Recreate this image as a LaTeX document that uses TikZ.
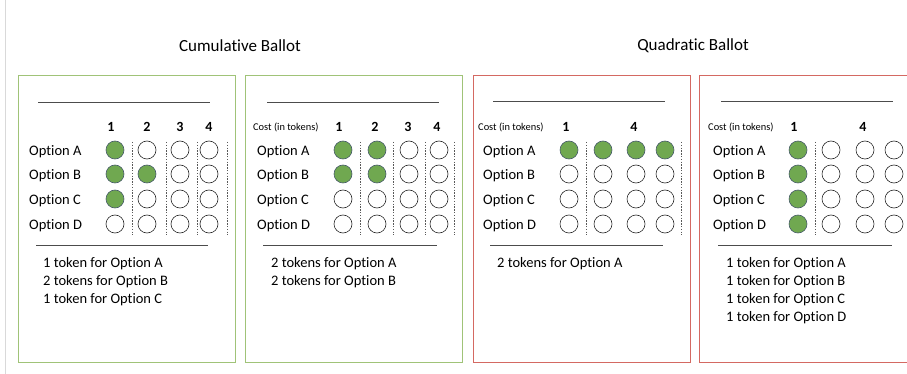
\documentclass[tikz,border=0pt]{standalone}
\usepackage{fontspec}
\setmainfont{Carlito}[Ligatures=NoCommon]

\definecolor{boxgreen}{RGB}{160,195,120}
\definecolor{boxred}{RGB}{212,105,98}
\definecolor{votegreen}{RGB}{112,168,80}
\definecolor{voteedge}{RGB}{70,90,105}

\begin{document}
\begin{tikzpicture}[x=1pt,y=-1pt,
    title/.style={font=\fontsize{17}{20}\selectfont},
    option/.style={anchor=west,inner sep=0pt,font=\fontsize{14.5}{17}\selectfont},
    colnum/.style={inner sep=0pt,font=\bfseries\fontsize{14}{17}\selectfont},
    cost/.style={anchor=west,inner sep=0pt,font=\fontsize{10.4}{12}\selectfont},
    tally/.style={anchor=west,inner sep=0pt,font=\fontsize{14.5}{17}\selectfont},
    bubble/.style={circle,draw=black!85,line width=0.6pt,minimum size=18pt,inner sep=0pt},
    voted/.style={bubble,fill=votegreen,draw=voteedge},
    sep/.style={draw=black!65,dash pattern=on 1.4pt off 1.4pt,line width=0.6pt},
    rule/.style={draw=black!70,line width=0.8pt}]
  \useasboundingbox (0,0) rectangle (907,374);
  \draw[gray!30,line width=0.8pt] (5,0) -- (5,374);

  % titles
  \node[title] (cumtitle) at (240,46) {Cumulative Ballot};
  \node[title] (quadtitle) at (693,46) {Quadratic Ballot};

  % ballot frames
  \draw[boxgreen,line width=0.9pt] (18,75) rectangle (235,362);
  \draw[boxgreen,line width=0.9pt] (245,75) rectangle (462,362);
  \draw[boxred,line width=0.9pt] (473,75) rectangle (690,362);
  \draw[boxred,line width=0.9pt] (699,75) rectangle (912,362);

  % cumulative, first ballot
  \draw[rule] (38,102) -- (210,102);
  \draw[rule] (36,245) -- (208,245);
  \foreach \c/\x in {1/111,2/147,3/180,4/209}
    \node[colnum] (a-h\c) at (\x,127) {\c};
  \foreach \x in {132,166,197,227}
    \draw[sep] (\x,142) -- (\x,235);
  \foreach \r/\y/\v in {A/150/1,B/174/2,C/199/1,D/224/0} {
    \node[option] (a-\r) at (29,\y+1.5) {Option \r};
    \foreach \c/\x in {1/115,2/147,3/180,4/209} {
      \ifnum\c>\v \node[bubble] (a-\r\c) at (\x,\y) {};
      \else \node[voted] (a-\r\c) at (\x,\y) {}; \fi
    }
  }
  \node[tally] (a-t1) at (43,264) {1 token for Option A};
  \node[tally] (a-t2) at (43,282) {2 tokens for Option B};
  \node[tally] (a-t3) at (43,300) {1 token for Option C};

  % cumulative, second ballot
  \draw[rule] (267,102) -- (439,102);
  \draw[rule] (263,245) -- (437,245);
  \node[cost] (b-cost) at (253,127) {Cost (in tokens)};
  \foreach \c/\x in {1/339,2/375,3/408,4/437}
    \node[colnum] (b-h\c) at (\x,127) {\c};
  \foreach \x in {360,393,425,454}
    \draw[sep] (\x,142) -- (\x,235);
  \foreach \r/\y/\v in {A/150/2,B/174/2,C/199/0,D/224/0} {
    \node[option] (b-\r) at (257,\y+1.5) {Option \r};
    \foreach \c/\x in {1/343,2/377,3/409,4/439} {
      \ifnum\c>\v \node[bubble] (b-\r\c) at (\x,\y) {};
      \else \node[voted] (b-\r\c) at (\x,\y) {}; \fi
    }
  }
  \node[tally] (b-t1) at (271,264) {2 tokens for Option A};
  \node[tally] (b-t2) at (271,282) {2 tokens for Option B};

  % quadratic, first ballot
  \draw[rule] (493,101) -- (665,101);
  \draw[rule] (490,245) -- (663,245);
  \node[cost] (c-cost) at (478,127) {Cost (in tokens)};
  \node[colnum] (c-h1) at (566,127) {1};
  \node[colnum] (c-h4) at (634,127) {4};
  \foreach \x in {586,681}
    \draw[sep] (\x,142) -- (\x,235);
  \foreach \r/\y/\v in {A/150/4,B/174/0,C/199/0,D/224/0} {
    \node[option] (c-\r) at (483,\y+1.5) {Option \r};
    \foreach \c/\x in {1/569,2/603,3/636,4/665} {
      \ifnum\c>\v \node[bubble] (c-\r\c) at (\x,\y) {};
      \else \node[voted] (c-\r\c) at (\x,\y) {}; \fi
    }
  }
  \node[tally] (c-t1) at (497,264) {2 tokens for Option A};

  % quadratic, second ballot
  \draw[rule] (721,101) -- (893,101);
  \draw[rule] (718,245) -- (892,245);
  \node[cost] (d-cost) at (708,127) {Cost (in tokens)};
  \node[colnum] (d-h1) at (794,127) {1};
  \node[colnum] (d-h4) at (863,127) {4};
  \draw[sep] (815,142) -- (815,235);
  \foreach \r/\y/\v in {A/150/1,B/174/1,C/199/1,D/224/1} {
    \node[option] (d-\r) at (713,\y+1.5) {Option \r};
    \foreach \c/\x in {1/798,2/831,3/865,4/894} {
      \ifnum\c>\v \node[bubble] (d-\r\c) at (\x,\y) {};
      \else \node[voted] (d-\r\c) at (\x,\y) {}; \fi
    }
  }
  \node[tally] (d-t1) at (726,264) {1 token for Option A};
  \node[tally] (d-t2) at (726,282) {1 token for Option B};
  \node[tally] (d-t3) at (726,300) {1 token for Option C};
  \node[tally] (d-t4) at (726,318) {1 token for Option D};
\end{tikzpicture}
\end{document}
